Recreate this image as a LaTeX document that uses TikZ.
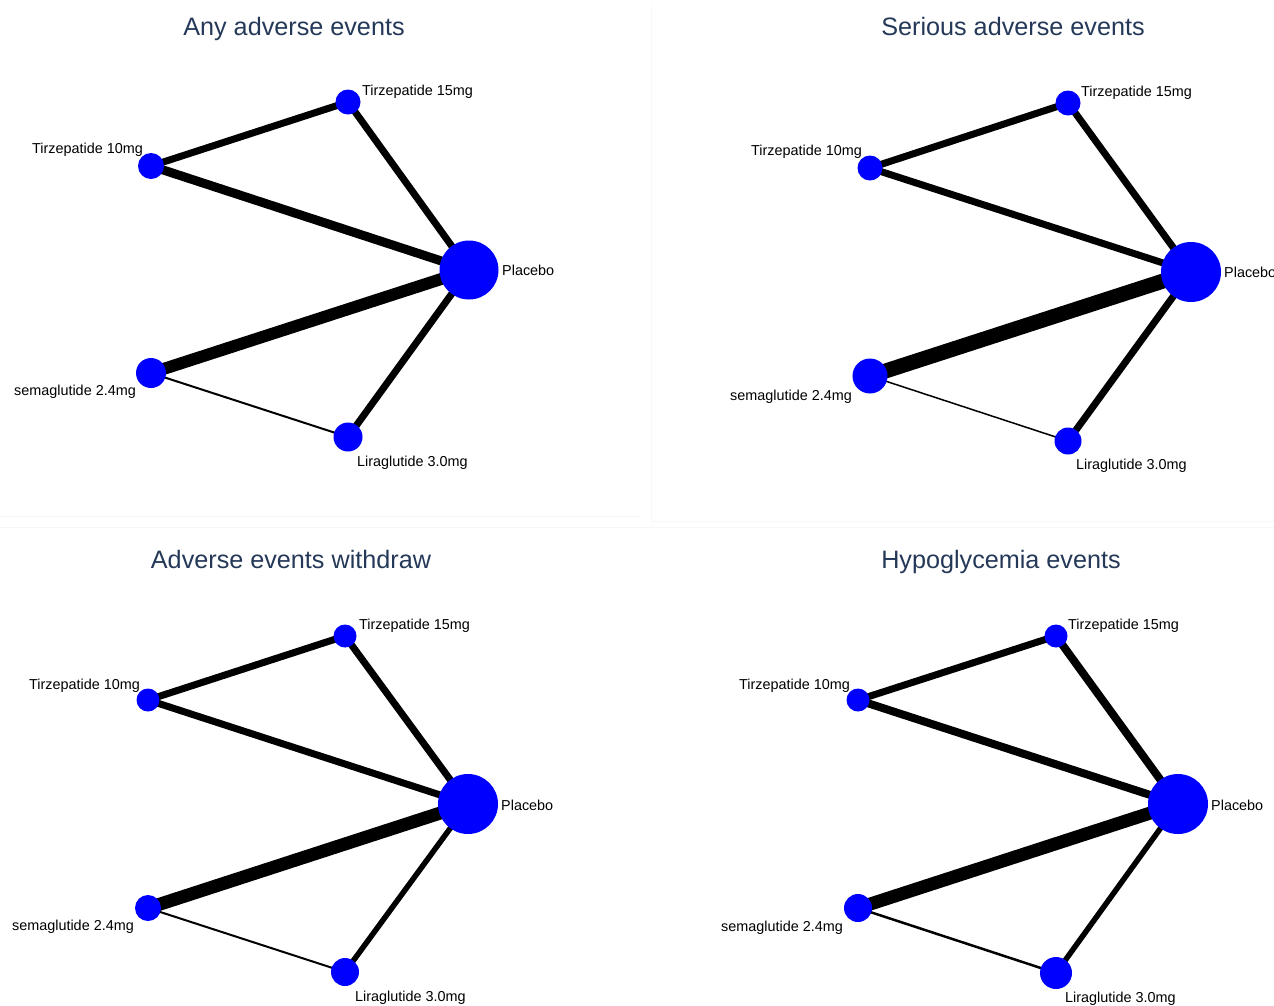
\documentclass[tikz,border=0pt]{standalone}
\usepackage{fontspec}
\setmainfont{Liberation Sans}
\usetikzlibrary{backgrounds}
\definecolor{plotblue}{RGB}{0,0,255}
\definecolor{titlecol}{HTML}{243858}
\tikzset{
  trt/.style={circle, fill=plotblue, draw=none, inner sep=0pt, outer sep=0pt},
  lbl/.style={font=\fontsize{14.4}{16}\selectfont, text=black, inner sep=0pt},
  ttl/.style={font=\fontsize{25.2}{30}\selectfont, text=titlecol, inner sep=0pt},
  conn/.style={draw=black, line cap=butt},
  faint/.style={draw=black!3, line width=1pt}
}
\begin{document}
\begin{tikzpicture}[x=1pt,y=-1pt]
\clip (0,0) rectangle (1274,1005);
% faint panel frames
\draw[faint] (651,6) -- (651,521) -- (1274,521);
\draw[faint] (0,516) -- (640,516);
\draw[faint] (0,527) -- (1274,527);

% ---------- Panel 1: Any adverse events ----------
\node[ttl, anchor=base] (atitle) at (294,35) {Any adverse events};
\node[trt, minimum size=25pt] (a15) at (348,102) {};
\node[trt, minimum size=26pt] (a10) at (151,166) {};
\node[trt, minimum size=59pt] (ap) at (469,270) {};
\node[trt, minimum size=30pt] (as) at (151,373) {};
\node[trt, minimum size=29pt] (al) at (348,437) {};
\node[lbl, anchor=base west] (a15l) at (362,95.5) {Tirzepatide 15mg};
\node[lbl, anchor=base east] (a10l) at (143,153.5) {Tirzepatide 10mg};
\node[lbl, anchor=base west] (apl) at (502,275.5) {Placebo};
\node[lbl, anchor=base east] (asl) at (136,395.5) {semaglutide 2.4mg};
\node[lbl, anchor=base west] (all) at (357,466.5) {Liraglutide 3.0mg};
\begin{scope}[on background layer]
\draw[conn, line width=7pt] (a10.center) -- (a15.center);
\draw[conn, line width=7pt] (a15.center) -- (ap.center);
\draw[conn, line width=9pt] (a10.center) -- (ap.center);
\draw[conn, line width=12pt] (as.center) -- (ap.center);
\draw[conn, line width=2pt] (as.center) -- (al.center);
\draw[conn, line width=7pt] (al.center) -- (ap.center);
\end{scope}

% ---------- Panel 2: Serious adverse events ----------
\node[ttl, anchor=base] (btitle) at (1013,35) {Serious adverse events};
\node[trt, minimum size=25pt] (b15) at (1068,103) {};
\node[trt, minimum size=25pt] (b10) at (870,168) {};
\node[trt, minimum size=60pt] (bp) at (1191,272) {};
\node[trt, minimum size=35pt] (bs) at (870,376) {};
\node[trt, minimum size=27pt] (bl) at (1068,441) {};
\node[lbl, anchor=base west] (b15l) at (1081,96.5) {Tirzepatide 15mg};
\node[lbl, anchor=base east] (b10l) at (862,155.5) {Tirzepatide 10mg};
\node[lbl, anchor=base west] (bpl) at (1224,277.5) {Placebo};
\node[lbl, anchor=base east] (bsl) at (852,400.5) {semaglutide 2.4mg};
\node[lbl, anchor=base west] (bll) at (1076,469.5) {Liraglutide 3.0mg};
\begin{scope}[on background layer]
\draw[conn, line width=7pt] (b10.center) -- (b15.center);
\draw[conn, line width=7pt] (b15.center) -- (bp.center);
\draw[conn, line width=7pt] (b10.center) -- (bp.center);
\draw[conn, line width=15pt] (bs.center) -- (bp.center);
\draw[conn, line width=1.5pt] (bs.center) -- (bl.center);
\draw[conn, line width=7pt] (bl.center) -- (bp.center);
\end{scope}

% ---------- Panel 3: Adverse events withdraw ----------
\node[ttl, anchor=base] (ctitle) at (291,568) {Adverse events withdraw};
\node[trt, minimum size=23pt] (c15) at (345,636) {};
\node[trt, minimum size=23pt] (c10) at (148,700) {};
\node[trt, minimum size=60pt] (cp) at (468,804) {};
\node[trt, minimum size=26pt] (cs) at (148,908) {};
\node[trt, minimum size=28pt] (cl) at (345,972) {};
\node[lbl, anchor=base west] (c15l) at (359,629.5) {Tirzepatide 15mg};
\node[lbl, anchor=base east] (c10l) at (140,689.5) {Tirzepatide 10mg};
\node[lbl, anchor=base west] (cpl) at (501,810.5) {Placebo};
\node[lbl, anchor=base east] (csl) at (134,930.5) {semaglutide 2.4mg};
\node[lbl, anchor=base west] (cll) at (355,1001.5) {Liraglutide 3.0mg};
\begin{scope}[on background layer]
\draw[conn, line width=7pt] (c10.center) -- (c15.center);
\draw[conn, line width=7pt] (c15.center) -- (cp.center);
\draw[conn, line width=7pt] (c10.center) -- (cp.center);
\draw[conn, line width=13pt] (cs.center) -- (cp.center);
\draw[conn, line width=2pt] (cs.center) -- (cl.center);
\draw[conn, line width=5.5pt] (cl.center) -- (cp.center);
\end{scope}

% ---------- Panel 4: Hypoglycemia events ----------
\node[ttl, anchor=base] (dtitle) at (1001,568) {Hypoglycemia events};
\node[trt, minimum size=23pt] (d15) at (1056,636) {};
\node[trt, minimum size=23pt] (d10) at (858,700) {};
\node[trt, minimum size=60pt] (dp) at (1178,804) {};
\node[trt, minimum size=28pt] (ds) at (858,908) {};
\node[trt, minimum size=32pt] (dl) at (1056,973) {};
\node[lbl, anchor=base west] (d15l) at (1068,629.5) {Tirzepatide 15mg};
\node[lbl, anchor=base east] (d10l) at (850,689.5) {Tirzepatide 10mg};
\node[lbl, anchor=base west] (dpl) at (1211,810.5) {Placebo};
\node[lbl, anchor=base east] (dsl) at (843,931.5) {semaglutide 2.4mg};
\node[lbl, anchor=base west] (dll) at (1065,1002.5) {Liraglutide 3.0mg};
\begin{scope}[on background layer]
\draw[conn, line width=7pt] (d10.center) -- (d15.center);
\draw[conn, line width=8pt] (d15.center) -- (dp.center);
\draw[conn, line width=8pt] (d10.center) -- (dp.center);
\draw[conn, line width=13pt] (ds.center) -- (dp.center);
\draw[conn, line width=2.5pt] (ds.center) -- (dl.center);
\draw[conn, line width=5.5pt] (dl.center) -- (dp.center);
\end{scope}
\end{tikzpicture}
\end{document}
